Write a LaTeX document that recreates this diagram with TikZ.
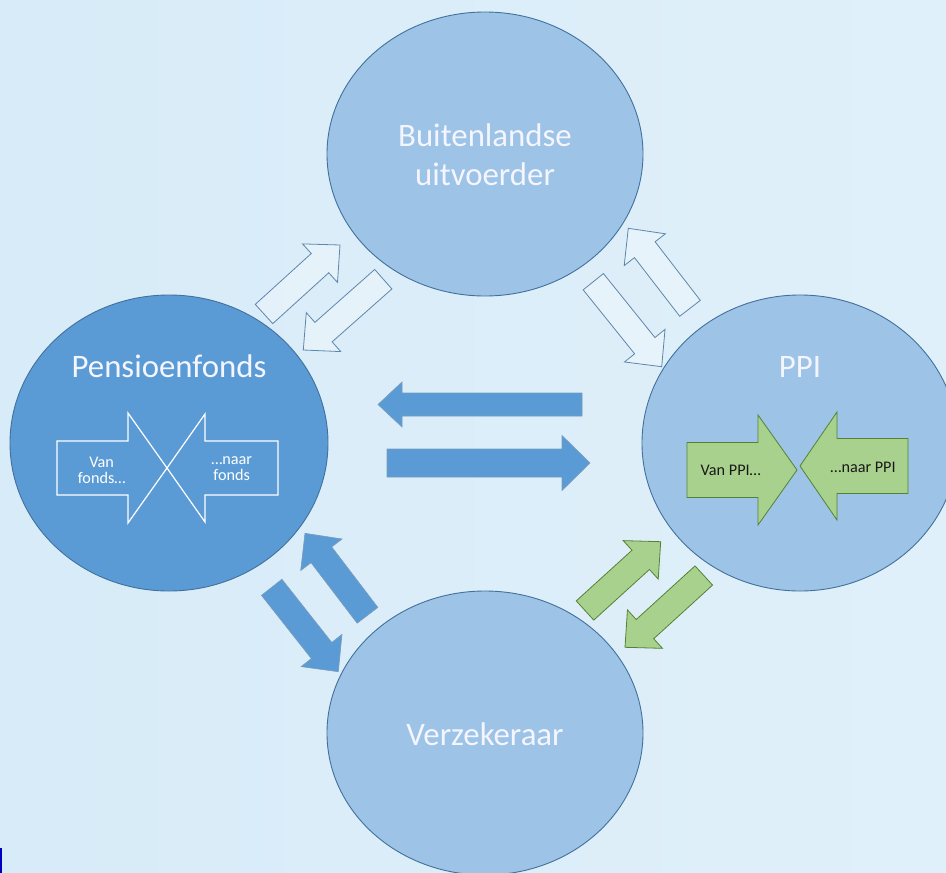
\documentclass[tikz,border=0pt]{standalone}
\usepackage{fontspec}
\setmainfont{Carlito}
\usepackage{tikz}
\usetikzlibrary{shapes.geometric,calc}
\pgfdeclarelayer{bg}
\pgfsetlayers{bg,main}
\definecolor{backblue}{HTML}{D7EBF8}
\definecolor{backlight}{HTML}{E0F0FA}
\definecolor{fondsblue}{HTML}{5B9BD5}
\definecolor{lightblue}{HTML}{9DC3E6}
\definecolor{edgeblue}{HTML}{41719C}
\definecolor{ppigreen}{HTML}{A9D18E}
\definecolor{edgegreen}{HTML}{548235}
\newcommand{\blockarrow}[6]{%
        \coordinate (hb) at ($(#3)!#6pt!(#2)$);
        \path [#1] ($(#2)!#4pt!90:(#3)$) -- ($(hb)!#4pt!90:(#3)$) -- ($(hb)!#5pt!90:(#3)$) -- (#3)
                -- ($(hb)!#5pt!-90:(#3)$) -- ($(hb)!#4pt!-90:(#3)$) -- ($(#2)!#4pt!-90:(#3)$) -- cycle;}

\begin{document}
\begin{tikzpicture}[x=1pt, y=-1pt,
        party/.style={ellipse, draw=edgeblue, line width=0.9pt, inner sep=0pt, minimum width=316pt, minimum height=284pt},
        title/.style={font=\fontsize{32.8}{39}\selectfont, text=white!96!blue},
        small/.style={font=\fontsize{16.2}{16}\selectfont, align=center},
        openarrow/.style={draw=edgeblue!85, fill=white, fill opacity=0.3, line width=0.8pt},
        bluearrow/.style={draw=edgeblue!70, fill=fondsblue, line width=0.6pt},
        greenarrow/.style={draw=edgegreen, fill=ppigreen, line width=0.8pt},
        whitearrow/.style={draw=white, line width=1.2pt}]
        \useasboundingbox (0,0) rectangle (946,873);
        \begin{pgfonlayer}{bg}
                \shade [left color=backblue, right color=backlight] (0,0) rectangle (946,873);
                \fill [blue!75!black] (0,848) rectangle (2,873);
        \end{pgfonlayer}
        \node (bu) [party, fill=lightblue] at (485,154) {};
        \node (pf) [party, fill=fondsblue, minimum width=318pt, minimum height=296pt] at (169,443) {};
        \node (ppi) [party, fill=lightblue, minimum height=296pt] at (800,443) {};
        \node (vz) [party, fill=lightblue] at (485,733) {};
        \node (butext) [title, align=center] at (485,155) {Buitenlandse\\uitvoerder};
        \node (pftext) [title, anchor=base] at (169,377) {Pensioenfonds};
        \node (ppitext) [title, anchor=base] at (800,377) {PPI};
        \node (vztext) [title, anchor=base] at (485,745) {Verzekeraar};
        \coordinate (a1s) at (264,314);
        \coordinate (a1e) at (340,245);
        \coordinate (a2s) at (383.3,279.2);
        \coordinate (a2e) at (303.3,350);
        \coordinate (a3s) at (690,308.3);
        \coordinate (a3e) at (628.3,228.3);
        \coordinate (a4s) at (593.3,281.7);
        \coordinate (a4e) at (661.7,366.7);
        \coordinate (a5s) at (582,404.5);
        \coordinate (a5e) at (378,404.5);
        \coordinate (a6s) at (387,463);
        \coordinate (a6e) at (590,463);
        \coordinate (a7s) at (367.5,615.3);
        \coordinate (a7e) at (305,533.3);
        \coordinate (a8s) at (271.7,587.3);
        \coordinate (a8e) at (338.3,671.7);
        \coordinate (a9s) at (585,610.5);
        \coordinate (a9e) at (660.7,541.7);
        \coordinate (a10s) at (703.8,575.5);
        \coordinate (a10e) at (625,647.3);
        \blockarrow{openarrow}{a1s}{a1e}{13}{26}{27}
        \blockarrow{openarrow}{a2s}{a2e}{13}{26}{27}
        \blockarrow{openarrow}{a3s}{a3e}{13}{26}{27}
        \blockarrow{openarrow}{a4s}{a4e}{13}{26}{27}
        \blockarrow{bluearrow}{a5s}{a5e}{11.5}{22.5}{24}
        \blockarrow{bluearrow}{a6s}{a6e}{14}{27.5}{28}
        \blockarrow{bluearrow}{a7s}{a7e}{13}{26}{27}
        \blockarrow{bluearrow}{a8s}{a8e}{13}{26}{27}
        \blockarrow{greenarrow}{a9s}{a9e}{13}{26}{27}
        \blockarrow{greenarrow}{a10s}{a10e}{13}{26}{27}
        \coordinate (i1s) at (57,468);
        \coordinate (i1e) at (167,468);
        \coordinate (i2s) at (278,468);
        \coordinate (i2e) at (167,468);
        \coordinate (i3s) at (687,470);
        \coordinate (i3e) at (797,470);
        \coordinate (i4s) at (908,466);
        \coordinate (i4e) at (800,466);
        \blockarrow{whitearrow}{i1s}{i1e}{27}{55}{39}
        \blockarrow{whitearrow}{i2s}{i2e}{27}{54}{38}
        \blockarrow{greenarrow}{i3s}{i3e}{27.5}{55}{39}
        \blockarrow{greenarrow}{i4s}{i4e}{27.5}{54}{37}
        \node (vanfonds) [small, text=white] at (101.7,470) {Van\\fonds…};
        \node (naarfonds) [small, text=white] at (231.7,469) {…naar\\fonds};
        \node (vanppi) [small, text=black!90, anchor=base] at (730.8,475) {Van PPI…};
        \node (naarppi) [small, text=black!90, anchor=base] at (863,472.7) {…naar PPI};
\end{tikzpicture}
\end{document}
